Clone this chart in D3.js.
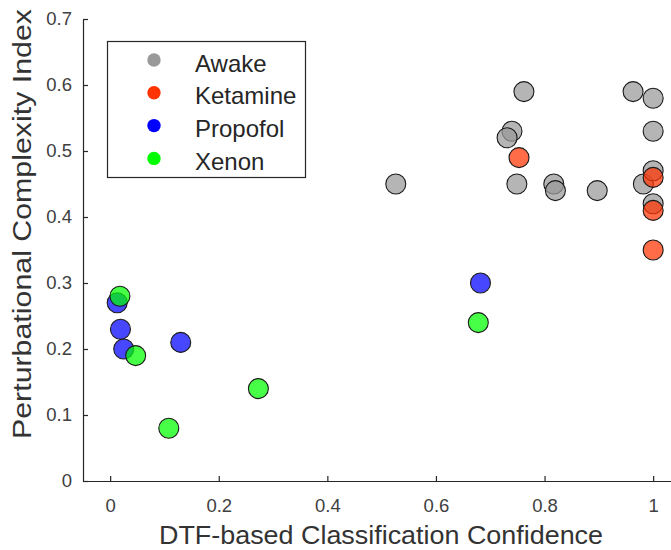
<!DOCTYPE html>
<html>
<head>
<meta charset="utf-8">
<script src="https://cdn.jsdelivr.net/npm/d3@7"></script>
<style>
  body { margin: 0; background: #fff; }
  svg { display: block; font-family: 'Liberation Sans', Arial, Helvetica, sans-serif; }
</style>
</head>
<body>
<div id="chart-area"></div>
<script>
// groups shown in the legend, in draw order
var groups = ['Awake', 'Ketamine', 'Propofol', 'Xenon']
var groupColors = ['#999999', '#ff3300', '#0000ff', '#00ff00']

// x = DTF-based classification confidence, y = PCI
var awakeX = [0.526, 0.762, 0.740, 0.731, 0.749, 0.817, 0.820, 0.897, 0.963, 1.0, 1.0, 0.982, 1.0, 1.0]
var awakeY = [0.45, 0.59, 0.53, 0.52, 0.45, 0.45, 0.44, 0.44, 0.59, 0.58, 0.53, 0.45, 0.47, 0.42]
var ketamineX = [0.753, 1.0, 1.0, 1.0]
var ketamineY = [0.49, 0.46, 0.41, 0.35]
var propofolX = [0.013, 0.019, 0.025, 0.130, 0.682]
var propofolY = [0.27, 0.23, 0.20, 0.21, 0.30]
var xenonX = [0.018, 0.047, 0.108, 0.273, 0.678]
var xenonY = [0.28, 0.19, 0.08, 0.14, 0.24]

var xTicks = [0, 0.2, 0.4, 0.6, 0.8, 1]
var yTicks = [0, 0.1, 0.2, 0.3, 0.4, 0.5, 0.6, 0.7]

var width = 671
var height = 550

var svg = d3.select('#chart-area')
    .append('svg')
        .attr('width', width)
        .attr('height', height)

// scales (x domain runs past the right edge of the picture)
var x = d3.scaleLinear()
    .domain([-0.05, 1.05])
    .range([83, 83 + 1.1 * 543])

var y = d3.scaleLinear()
    .domain([0, 0.7])
    .range([481, 19])

var axisColor = '#262626'

// X Axis
var xAxisGroup = svg.append('g')
    .attr('transform', `translate(0, ${y(0)})`)
    .call(d3.axisBottom(x)
        .tickValues(xTicks)
        .tickFormat(d3.format('~g'))
        .tickSizeInner(-5)
        .tickSizeOuter(0)
        .tickPadding(18))
xAxisGroup.select('.domain').attr('d', `M${x(-0.05)},0.5H${width}`)

// Y Axis
var yAxisGroup = svg.append('g')
    .attr('transform', `translate(${x(-0.05)}, 0)`)
    .call(d3.axisLeft(y)
        .tickValues(yTicks)
        .tickFormat(d3.format('~g'))
        .tickSizeInner(-5)
        .tickSizeOuter(0)
        .tickPadding(11))

svg.selectAll('.tick text')
    .attr('font-size', '18.5px')
    .attr('fill', '#404040')
    .attr('font-family', null)
svg.selectAll('.domain, .tick line')
    .attr('stroke', axisColor)
    .attr('stroke-width', 1.2)

// axis labels
svg.append('text')
    .attr('x', 381)
    .attr('y', 544)
    .attr('font-size', '25px')
    .attr('fill', '#333')
    .attr('text-anchor', 'middle')
    .attr('textLength', 444)
    .attr('lengthAdjust', 'spacingAndGlyphs')
    .text('DTF-based Classification Confidence')

svg.append('text')
    .attr('transform', 'translate(31, 224) rotate(-90)')
    .attr('font-size', '25px')
    .attr('fill', '#333')
    .attr('text-anchor', 'middle')
    .attr('textLength', 430)
    .attr('lengthAdjust', 'spacingAndGlyphs')
    .text('Perturbational Complexity Index')

// points
var series = [
    { name: 'Awake', xs: awakeX, ys: awakeY },
    { name: 'Ketamine', xs: ketamineX, ys: ketamineY },
    { name: 'Propofol', xs: propofolX, ys: propofolY },
    { name: 'Xenon', xs: xenonX, ys: xenonY }
]

var color = d3.scaleOrdinal().domain(groups).range(groupColors)

series.forEach(s => {
    var pts = s.xs.map((v, i) => ({ x: v, y: s.ys[i] }))
    svg.append('g')
        .selectAll('circle')
        .data(pts)
        .enter()
        .append('circle')
            .attr('cx', d => x(d.x))
            .attr('cy', d => y(d.y))
            .attr('r', 10)
            .attr('fill', color(s.name))
            .attr('fill-opacity', 0.72)
            .attr('stroke', '#1a1a1a')
            .attr('stroke-width', 1.1)
})

// legend
var legend = svg.append('g')

legend.append('rect')
    .attr('x', 107.5)
    .attr('y', 41.5)
    .attr('width', 198)
    .attr('height', 136)
    .attr('fill', '#fff')
    .attr('stroke', axisColor)
    .attr('stroke-width', 1.2)

var rows = legend.selectAll('.row')
    .data(groups)
    .enter()
    .append('g')
        .attr('class', 'row')
        .attr('transform', (d, i) => `translate(0, ${60 + i * 32.8})`)

rows.append('circle')
    .attr('cx', 154)
    .attr('cy', 0)
    .attr('r', 6.7)
    .attr('fill', d => color(d))

rows.append('text')
    .attr('x', 195)
    .attr('y', 11.5)
    .attr('font-size', '24px')
    .attr('fill', '#262626')
    .text(d => d)
</script>
</body>
</html>
